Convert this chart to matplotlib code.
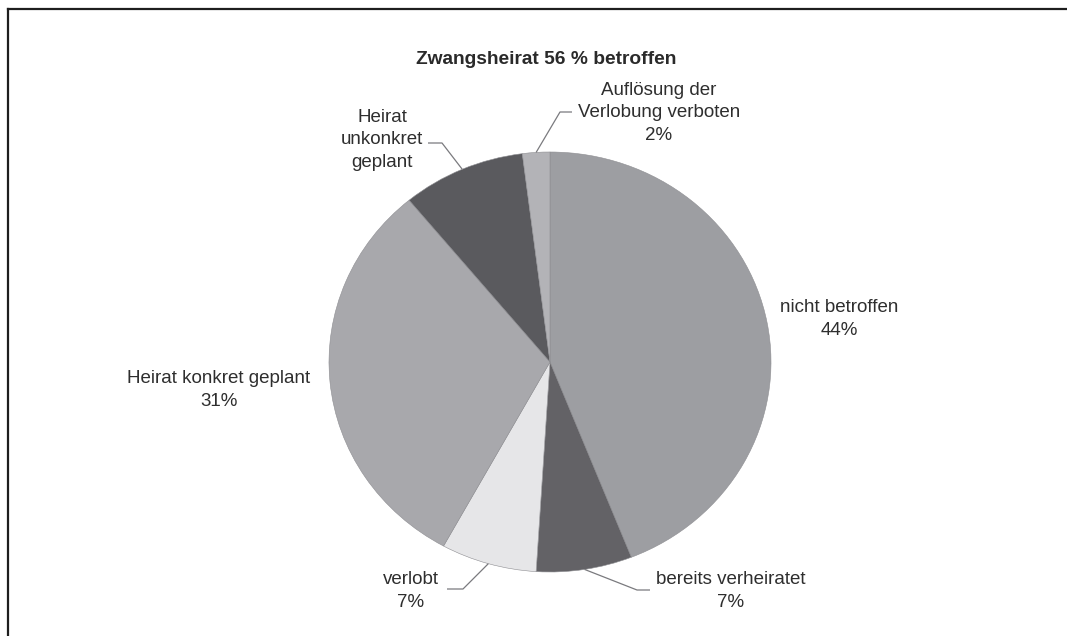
import numpy as np
import matplotlib
matplotlib.use('Agg')
import matplotlib.pyplot as plt
from matplotlib.lines import Line2D

plt.rcParams['font.family'] = ['Liberation Sans', 'DejaVu Sans']

# data (clockwise from 12 o'clock)
labels = ['nicht betroffen', 'bereits verheiratet', 'verlobt',
          'Heirat konkret geplant', 'Heirat\nunkonkret\ngeplant',
          'Auflösung der\nVerlobung verboten']
shares = [44, 7, 7, 31, 9, 2]
pct_text = ['44%', '7%', '7%', '31%', None, '2%']
colors = ['#9d9ea2', '#636266', '#e6e6e8', '#a8a8ac', '#5a5a5e', '#b3b3b7']
title = 'Zwangsheirat 56 % betroffen'

W, H = 1067, 636
cx, cy, rx, ry = 550, 362, 221, 210   # pie centre / radii in pixels


def px(x, y):
    # pixel (from top-left) -> data coords
    return (x - cx) / rx, (cy - y) / ry


fig = plt.figure(figsize=(W / 100, H / 100), dpi=100)
ax = fig.add_axes([0, 0, 1, 1])
wedges, _ = ax.pie(shares, colors=colors, startangle=90, counterclock=False,
                   wedgeprops=dict(edgecolor='#8e8e92', linewidth=0.4))
ax.set_aspect('auto')
x0, y0 = px(0, H)
x1, y1 = px(W, 0)
ax.set_xlim(x0, x1)
ax.set_ylim(y0, y1)
ax.axis('off')

txt = dict(fontsize=13.5, color='#2e2e2e', ha='center', va='center',
           multialignment='center', linespacing=1.45)

# label positions (pixels) and leader elbows
label_pos = [(839, 319), (731, 591), (411, 591), (219, 390), (382, 140), (659, 113)]
leaders = {1: [(637, 590), (650, 590)],
           2: [(463, 589), (447, 589)],
           4: [(442, 143), (428, 143)],
           5: [(560, 112), (572, 112)]}

for i, w in enumerate(wedges):
    s = labels[i] if pct_text[i] is None else labels[i] + '\n' + pct_text[i]
    ax.text(*px(*label_pos[i]), s, **txt)
    if i in leaders:
        mid = np.deg2rad((w.theta1 + w.theta2) / 2)
        pts = [(np.cos(mid), np.sin(mid))] + [px(*p) for p in leaders[i]]
        xs, ys = zip(*pts)
        ax.plot(xs, ys, color='#7a7a7e', lw=0.9, solid_capstyle='butt')

ax.text(*px(546, 60), title, fontsize=13.8, fontweight='bold',
        color='#2a2a2a', ha='center', va='center')

# frame (left and top edges)
fig.add_artist(Line2D([7.5 / W, 7.5 / W], [0, 1 - 8.5 / H], color='#1e1e1e',
                      lw=1.6, transform=fig.transFigure))
fig.add_artist(Line2D([7.5 / W, 1], [1 - 8.5 / H, 1 - 8.5 / H], color='#1e1e1e',
                      lw=1.6, transform=fig.transFigure))

fig.savefig('out.png', dpi=100)
